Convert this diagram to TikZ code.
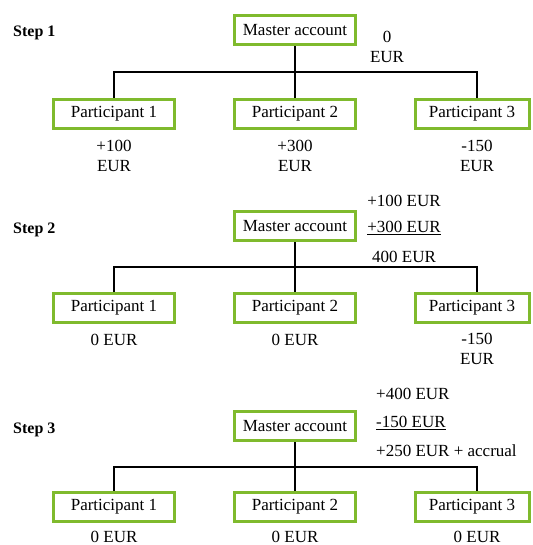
\documentclass[tikz,border=0pt]{standalone}
\usepackage{fontspec}
\setmainfont{Liberation Serif}
\definecolor{boxgreen}{RGB}{127,186,45}
\begin{document}
\begin{tikzpicture}[x=1pt,y=-1pt,
  font=\fontsize{17}{20}\selectfont,
  acct/.style={draw=boxgreen,line width=3pt,fill=white,minimum width=121pt,minimum height=29pt,inner sep=0pt},
  stepname/.style={font=\fontsize{16}{20}\selectfont\bfseries,anchor=west,inner sep=0pt},
  amount/.style={align=center,inner sep=0pt},
  link/.style={line width=1.1pt,black}]
\useasboundingbox (0,0) rectangle (532,545);

% ---------- Step 1 ----------
\node[stepname] (s1) at (13,33) {Step 1};
\node[acct] (m1) at (295,30.5) {Master account};
\node[acct] (p11) at (114,114) {Participant 1};
\node[acct] (p12) at (295,114) {Participant 2};
\node[acct,minimum width=114pt] (p13) at (472,114) {Participant 3};
\coordinate (b1l) at (114,72);
\coordinate (b1r) at (477,72);
\draw[link] (m1.south) -- (p12.north);
\draw[link] (p11.north) -- (b1l) -- (b1r) -- (b1r |- p13.north);
\node[amount] (a11) at (114,156) {+100\\EUR};
\node[amount] (a12) at (295,156) {+300\\EUR};
\node[amount] (a13) at (477,156) {-150\\EUR};
\node[amount] (am1) at (387,47) {0\\EUR};

% ---------- Step 2 ----------
\node[stepname] (s2) at (13,230) {Step 2};
\node[acct] (m2) at (295,226) {Master account};
\node[acct] (p21) at (114,308) {Participant 1};
\node[acct] (p22) at (295,308) {Participant 2};
\node[acct,minimum width=114pt] (p23) at (472,308) {Participant 3};
\coordinate (b2l) at (114,267);
\coordinate (b2r) at (477,267);
\draw[link] (m2.south) -- (p22.north);
\draw[link] (p21.north) -- (b2l) -- (b2r) -- (b2r |- p23.north);
\node[amount] (a21) at (114,340) {0 EUR};
\node[amount] (a22) at (295,340) {0 EUR};
\node[amount] (a23) at (477,349) {-150\\EUR};
\node[amount] (c21) at (404,201) {+100 EUR};
\node[amount] (c22) at (404,228) {\underline{+300 EUR}};
\node[amount] (c23) at (404,257) {400 EUR};

% ---------- Step 3 ----------
\node[stepname] (s3) at (13,430) {Step 3};
\node[acct] (m3) at (295,426) {Master account};
\node[acct] (p31) at (114,507) {Participant 1};
\node[acct] (p32) at (295,507) {Participant 2};
\node[acct,minimum width=114pt] (p33) at (472,507) {Participant 3};
\coordinate (b3l) at (114,467);
\coordinate (b3r) at (477,467);
\draw[link] (m3.south) -- (p32.north);
\draw[link] (p31.north) -- (b3l) -- (b3r) -- (b3r |- p33.north);
\node[amount] (a31) at (114,537) {0 EUR};
\node[amount] (a32) at (295,537) {0 EUR};
\node[amount] (a33) at (477,537) {0 EUR};
\node[amount,anchor=west] (c31) at (376,394) {+400 EUR};
\node[amount,anchor=west] (c32) at (376,423) {\underline{-150 EUR}};
\node[amount,anchor=west] (c33) at (376,451) {+250 EUR + accrual};
\end{tikzpicture}
\end{document}
